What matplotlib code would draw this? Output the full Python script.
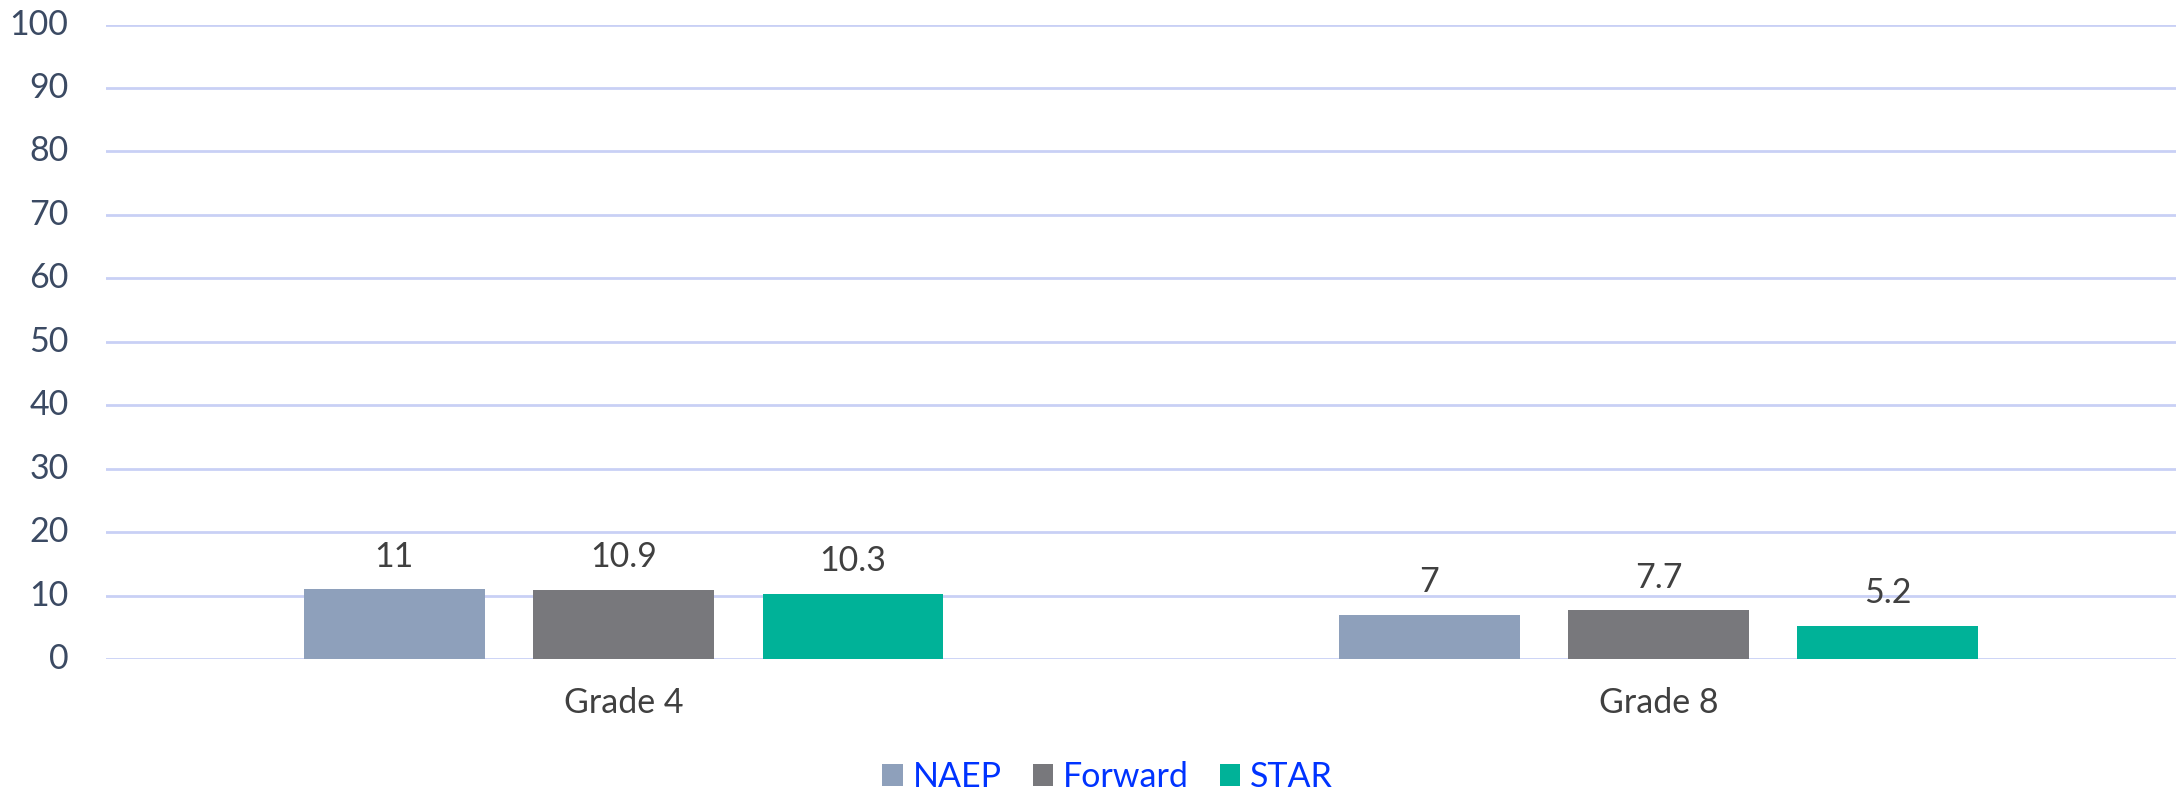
import matplotlib
matplotlib.use("Agg")
import matplotlib.pyplot as plt
import numpy as np
from matplotlib.patches import Patch

categories = ["Grade 4", "Grade 8"]
series = ["NAEP", "Forward", "STAR"]
naep = [11, 7]
forward = [10.9, 7.7]
star = [10.3, 5.2]
y_ticks = [0, 10, 20, 30, 40, 50, 60, 70, 80, 90, 100]

colors = ["#8EA0BB", "#78787C", "#00B298"]
plt.rcParams["font.family"] = ["Lato", "DejaVu Sans"]

fig = plt.figure(figsize=(21.78, 7.92), dpi=100)
ax = fig.add_axes([0.0487, 0.1679, 0.9504, 0.8011])

x = np.arange(len(categories))
width = 0.1745
step = 0.2215
for i, (name, vals) in enumerate(zip(series, [naep, forward, star])):
    pos = x + (i - 1) * step
    bars = ax.bar(pos, vals, width=width, color=colors[i], zorder=3, label=name)
    for b, v in zip(bars, vals):
        ax.annotate(f"{v:g}", (b.get_x() + b.get_width() / 2, v),
                    xytext=(0, 12), textcoords="offset points",
                    ha="center", va="bottom", fontsize=24.5, color="#404040")

ax.set_xlim(-0.5, 1.5)
ax.set_ylim(0, 100)
ax.set_yticks(y_ticks)
ax.set_xticks(x)
ax.set_xticklabels(categories)
ax.grid(axis="y", color="#C9D0F5", linewidth=2, zorder=0)
ax.set_axisbelow(True)
for s in ax.spines.values():
    s.set_visible(False)
ax.tick_params(axis="y", length=0, labelsize=24.5, labelcolor="#3B4A63", pad=27)
ax.tick_params(axis="x", length=0, labelsize=24.5, labelcolor="#404040", pad=20)
for lab in ax.get_yticklabels():
    lab.set_verticalalignment("center")

handles = [Patch(facecolor=c, label=n) for c, n in zip(colors, series)]
leg = fig.legend(handles=handles, loc="center", bbox_to_anchor=(0.5086, 0.019),
                 ncol=3, frameon=False, fontsize=24.5, handlelength=0.6,
                 handleheight=0.6, handletextpad=0.3, columnspacing=0.9)
for t in leg.get_texts():
    t.set_color("#0033FF")

fig.savefig("out.png", dpi=100)
